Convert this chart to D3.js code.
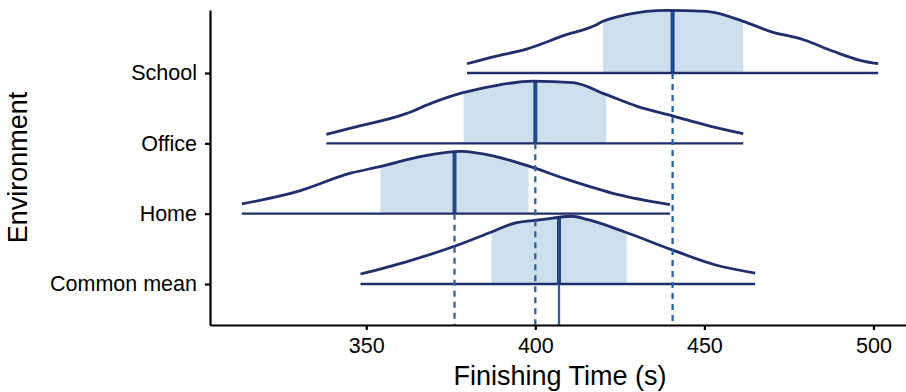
<!DOCTYPE html>
<html>
<head>
<meta charset="utf-8">
<script src="https://cdn.jsdelivr.net/npm/d3@7"></script>
<style>
  body { margin: 0; background: #fff; }
  text { font-family: "Liberation Sans", Arial, Helvetica, sans-serif; }
</style>
</head>
<body>
<svg id="chart"></svg>
<script>
// rows, bottom to top
const environments = ["Common mean", "Home", "Office", "School"];

// posterior curves (time in s, height as share of a row)
const commonTime    = [348.3, 362.3, 376.1, 387.0, 393.9, 401.8, 410.7, 415.6, 426.5, 440.3, 453.1, 465.0];
const commonDensity = [0.142, 0.323, 0.536, 0.739, 0.867, 0.914, 0.963, 0.914, 0.739, 0.488, 0.274, 0.156];

const homeTime    = [313.2, 329.8, 345.6, 354.4, 366.3, 378.1, 388.0, 398.3, 409.7, 424.5, 439.8];
const homeDensity = [0.138, 0.317, 0.579, 0.672, 0.815, 0.886, 0.815, 0.672, 0.483, 0.270, 0.128];

const officeTime    = [338.2, 346.0, 361.8, 369.7, 378.6, 387.5, 399.3, 411.2, 420.8, 429.9, 440.8, 451.6, 461.5];
const officeDensity = [0.128, 0.223, 0.422, 0.579, 0.720, 0.815, 0.886, 0.863, 0.697, 0.530, 0.388, 0.246, 0.138];

const schoolTime    = [379.8, 388.2, 397.4, 409.2, 417.1, 420.0, 426.9, 438.8, 450.7, 461.5, 469.4, 479.3, 488.1, 496.0, 501.4];
const schoolDensity = [0.132, 0.237, 0.341, 0.545, 0.664, 0.735, 0.829, 0.892, 0.877, 0.735, 0.593, 0.473, 0.309, 0.181, 0.132];

const means        = [407.0, 376.1, 400.0, 440.6];
const intervalLow  = [387.0, 354.2, 378.8, 420.0];
const intervalHigh = [427.0, 398.0, 421.0, 461.5];

const xTicks = [350, 400, 450, 500];

const times = [commonTime, homeTime, officeTime, schoolTime];
const densities = [commonDensity, homeDensity, officeDensity, schoolDensity];

const width = 906, height = 392;
const panel = { left: 210, right: 910, top: 10, bottom: 325 };

const svg = d3.select("#chart")
  .attr("width", width)
  .attr("height", height);

const defs = svg.append("defs");

// 5% expansion like ggplot
const allTimes = times.flat();
const tMin = d3.min(allTimes), tMax = d3.max(allTimes);
const pad = (tMax - tMin) * 0.05;

const x = d3.scaleLinear()
  .domain([tMin - pad, tMax + pad])
  .range([panel.left, panel.right]);

const y = d3.scaleLinear()
  .domain([0.417, 4.896])
  .range([panel.bottom, panel.top]);

const lineColor = "#1f2e6d";
const meanColor = "#1e4b8f";
const refColor = "#2a62aa";
const shadeColor = "#cddfec";

const groups = environments.map((name, i) => ({
  name,
  idx: i + 1,
  mean: means[i],
  lo: intervalLow[i],
  hi: intervalHigh[i],
  pts: times[i].map((t, j) => ({ t, d: densities[i][j] }))
}));

// draw top row first so lower rows sit above
groups.slice().reverse().forEach(g => {
  const base = y(g.idx);
  const area = d3.area()
    .x(p => x(p.t))
    .y0(base)
    .y1(p => y(g.idx + p.d))
    .curve(d3.curveMonotoneX);
  const line = d3.line()
    .x(p => x(p.t))
    .y(p => y(g.idx + p.d))
    .curve(d3.curveMonotoneX);

  const areaId = "area-clip-" + g.idx, intId = "int-clip-" + g.idx;
  defs.append("clipPath").attr("id", areaId)
    .append("path").attr("d", area(g.pts));
  defs.append("clipPath").attr("id", intId)
    .append("rect")
      .attr("x", x(g.lo))
      .attr("y", 0)
      .attr("width", x(g.hi) - x(g.lo))
      .attr("height", height);

  const row = svg.append("g");

  row.append("path")
    .attr("d", area(g.pts))
    .attr("fill", shadeColor)
    .attr("clip-path", `url(#${intId})`);

  row.append("line")
    .attr("x1", x(g.mean)).attr("x2", x(g.mean))
    .attr("y1", base + 1).attr("y2", y(g.idx + 1.2))
    .attr("stroke", meanColor)
    .attr("stroke-width", 4)
    .attr("clip-path", `url(#${areaId})`);

  row.append("path")
    .attr("d", line(g.pts))
    .attr("fill", "none")
    .attr("stroke", lineColor)
    .attr("stroke-width", 2.8)
    .attr("stroke-linejoin", "round");

  row.append("line")
    .attr("x1", x(d3.min(g.pts, p => p.t)))
    .attr("x2", x(d3.max(g.pts, p => p.t)))
    .attr("y1", base).attr("y2", base)
    .attr("stroke", lineColor)
    .attr("stroke-width", 2.4);
});

// reference lines down to the axis
groups.forEach(g => {
  svg.append("line")
    .attr("x1", x(g.mean)).attr("x2", x(g.mean))
    .attr("y1", y(g.idx)).attr("y2", panel.bottom)
    .attr("stroke", refColor)
    .attr("stroke-width", 2.3)
    .attr("stroke-dasharray", g.name === "Common mean" ? null : "6,5");
});

// axes
const xAxis = svg.append("g")
  .attr("transform", `translate(0,${panel.bottom})`)
  .call(d3.axisBottom(x).tickValues(xTicks).tickSize(5).tickSizeOuter(0)
    .tickPadding(8).tickFormat(d3.format("d")));

const yAxis = svg.append("g")
  .attr("transform", `translate(${panel.left},0)`)
  .call(d3.axisLeft(y).tickValues([1, 2, 3, 4]).tickSize(5).tickSizeOuter(0)
    .tickPadding(8).tickFormat(d => environments[d - 1]));

[xAxis, yAxis].forEach(a => {
  a.select(".domain").attr("stroke", "#000").attr("stroke-width", 2.2);
  a.selectAll(".tick line").attr("stroke", "#000").attr("stroke-width", 2.2);
  a.selectAll(".tick text")
    .attr("fill", "#000")
    .style("font-size", "21.5px")
    .style("font-family", '"Liberation Sans", Arial, sans-serif');
});

// axis titles
svg.append("text")
  .attr("x", (panel.left + panel.right) / 2)
  .attr("y", 385)
  .attr("text-anchor", "middle")
  .style("font-size", "27px")
  .text("Finishing Time (s)");

svg.append("text")
  .attr("transform", `translate(27,${(panel.top + panel.bottom) / 2}) rotate(-90)`)
  .attr("text-anchor", "middle")
  .style("font-size", "27px")
  .text("Environment");
</script>
</body>
</html>
